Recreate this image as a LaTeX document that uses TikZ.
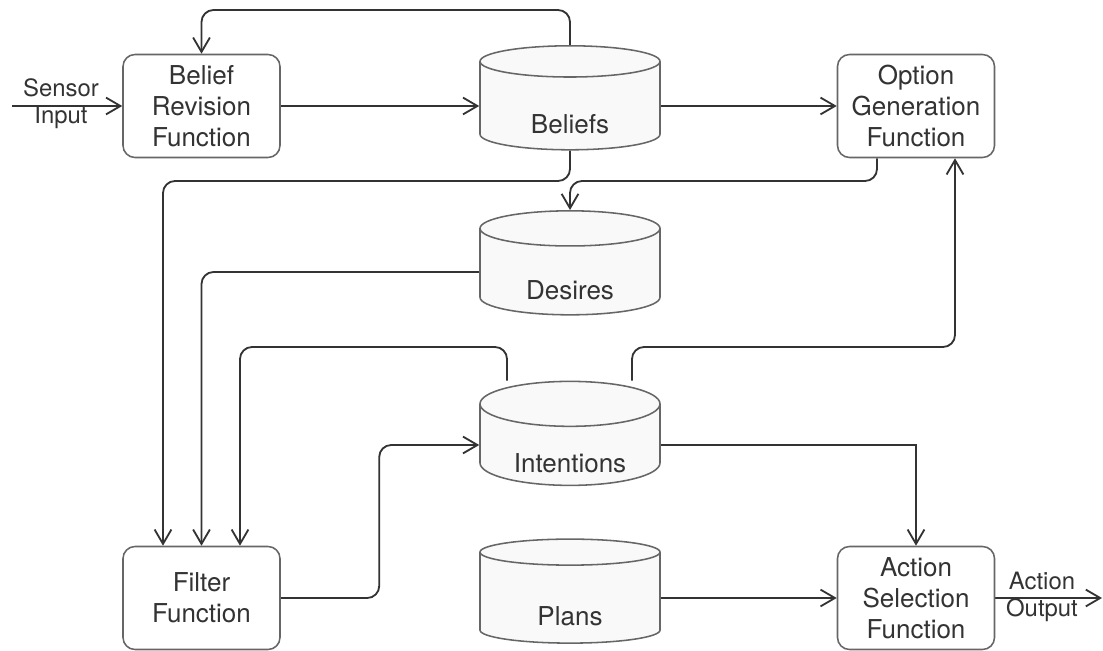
\documentclass[tikz,border=0pt]{standalone}
\usepackage{fontspec}
\setmainfont{TeX Gyre Heros}
\usetikzlibrary{arrows.meta,shapes.geometric,backgrounds}
\definecolor{node_gray}{RGB}{102,102,102}
\definecolor{edge_dark}{RGB}{51,51,51}
\definecolor{store_fill}{RGB}{249,249,249}
\newcommand{\storetext}[1]{\raisebox{-0.685cm}[0pt][0pt]{#1}}

\begin{document}
\begin{tikzpicture}[->,>={Straight Barb[length=3.6mm,width=4.2mm]},line width=1.3pt,color=edge_dark]
    \tikzstyle{func}=[draw=node_gray, rectangle, rounded corners=0.3cm, line width=1.1pt, minimum width=3.925cm, minimum height=2.575cm, align=center, fill=white, font=\fontsize{18.5}{22}\selectfont]
    \tikzstyle{store}=[draw=node_gray, cylinder, shape border rotate=90, aspect=0.4, line width=1.1pt, minimum width=4.5cm, minimum height=2.6cm, inner sep=0pt, fill=store_fill, font=\fontsize{18.5}{22}\selectfont]
    \tikzstyle{lbl}=[align=center, font=\fontsize{17}{19}\selectfont]
    \tikzstyle{link}=[->, line width=1.3pt, color=edge_dark]

    \useasboundingbox (0,0) rectangle (27.575,16.25);

    \node[func] (brf) at (5.0375,13.6) {Belief\\Revision\\Function};
    \node[store] (beliefs) at (14.25,13.6) {\storetext{Beliefs}};
    \node[func] (ogf) at (22.9,13.6) {Option\\Generation\\Function};
    \node[store] (desires) at (14.25,9.45) {\storetext{Desires}};
    \node[store] (intentions) at (14.25,5.125) {\storetext{Intentions}};
    \node[func] (filter) at (5.0375,1.3) {Filter\\Function};
    \node[store] (plans) at (14.25,1.3) {\storetext{Plans}};
    \node[func] (asf) at (22.9,1.3) {Action\\Selection\\Function};

    \node[lbl] (sensor) at (1.525,13.65) {Sensor\\Input};
    \node[lbl] (output) at (26.05,1.325) {Action\\Output};

    \coordinate (sin) at (0.3,13.6);
    \coordinate (aout) at (27.55,1.3);
    \coordinate (loop) at (5.0375,16.0);
    \coordinate (bdrop) at (4.075,11.725);
    \coordinate (odrop) at (14.25,11.725);
    \coordinate (ileft) at (6.0,7.575);
    \coordinate (iright) at (23.875,7.575);

    \begin{scope}[on background layer, link]
    \draw[link] (sin) -- (brf.west);
    \draw[link] (brf.east) -- (beliefs.west);
    \draw[link, rounded corners=0.3cm] (beliefs.north) |- (loop) -- (brf.north);
    \draw[link] (beliefs.east) -- (ogf.west);
    \draw[link, rounded corners=0.3cm] (beliefs.south) |- (bdrop) -- ([xshift=-0.9625cm]filter.north);
    \draw[link, rounded corners=0.3cm] ([xshift=-0.975cm]ogf.south) |- (odrop) -- (desires.north);
    \draw[link, rounded corners=0.3cm] (desires.west) -| (filter.north);
    \draw[link, rounded corners=0.3cm] ([xshift=-1.575cm]intentions.north) |- (ileft) -- ([xshift=0.9625cm]filter.north);
    \draw[link, rounded corners=0.3cm] ([xshift=1.55cm]intentions.north) |- (iright) -- ([xshift=0.975cm]ogf.south);
    \draw[link, rounded corners=0.3cm] (filter.east) -| ([xshift=-2.5cm]intentions.west) -- (intentions.west);
    \draw[link] (intentions.east) -| (asf.north);
    \draw[link] (plans.east) -- (asf.west);
    \draw[link] (asf.east) -- (aout);
    \end{scope}
\end{tikzpicture}
\end{document}
